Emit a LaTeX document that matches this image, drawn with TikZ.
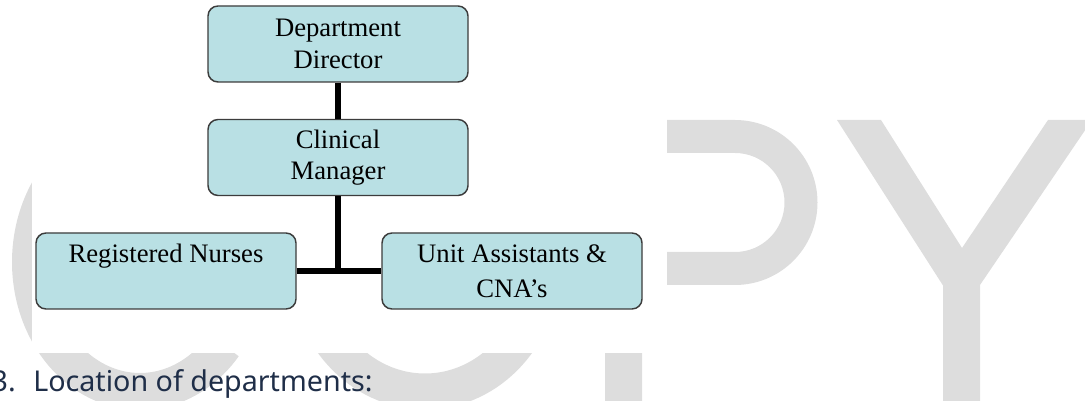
\documentclass[tikz,border=0pt]{standalone}
\usepackage{fontspec}
\setmainfont{Liberation Serif}
\newfontfamily\pagefont{Noto Sans}
\definecolor{boxfill}{HTML}{B9E0E4}
\definecolor{boxline}{HTML}{3C3C3C}
\definecolor{wmgray}{HTML}{DDDDDD}
\definecolor{capnavy}{HTML}{1F2E48}
\begin{document}
\begin{tikzpicture}[x=0.75pt,y=0.75pt,
  orgbox/.style={draw=boxline,line width=1.1pt,fill=boxfill,rounded corners=7.5pt,
    minimum width=195pt,minimum height=57pt,align=center,inner sep=0pt},
  topfont/.style={font=\fontsize{20}{23.7}\selectfont},
  lowfont/.style={font=\fontsize{20}{26.3}\selectfont},
  link/.style={line width=4pt},
  captext/.style={font=\pagefont\fontsize{21.5}{26}\selectfont,text=capnavy,inner sep=0pt}]
  \useasboundingbox (0,0) rectangle (1085,400);
  \clip (0,0) rectangle (1085,400);
  % watermark letters
  \draw[wmgray,line width=27.75pt] (140,138) ++(40:109.5 and 129.5)
    arc[start angle=40,end angle=320,x radius=109.5,y radius=129.5];
  \draw[wmgray,line width=27pt] (425,138) ellipse[x radius=118,y radius=129.5];
  \fill[wmgray,even odd rule] (605,-10) -- (605,280) -- (735,280)
    arc[start angle=90,end angle=-90,radius=82.5] -- (642,115) -- (642,-10) -- cycle
    (642,247) -- (735,247) arc[start angle=90,end angle=-90,radius=49.5] -- (642,148) -- cycle;
  \fill[wmgray] (837,280) -- (881,280) -- (962,152) -- (1048,280) -- (1092,280)
    -- (980,115) -- (980,-10) -- (943,-10) -- (943,114.5) -- cycle;
  % white ground of the chart
  \fill[white] (32,47) rectangle (667,400);
  % chart
  \node[orgbox,topfont] (director) at (338,356) {Department\\Director};
  \node[orgbox,topfont] (manager) at (338,242.5) {Clinical\\Manager};
  \node[orgbox,lowfont] (nurses) at (166,129) {Registered Nurses\\\mbox{}};
  \node[orgbox,lowfont] (assist) at (512,129) {Unit Assistants \&\\CNA’s};
  \draw[link] (director) -- (manager);
  \draw[link] (manager) -- (manager |- nurses.east);
  \draw[link] (nurses) -- (assist);
  % caption
  \node[captext,anchor=base east] (num) at (16,9) {3.};
  \node[captext,anchor=base west] (loc) at (33,9) {Location of departments:};
\end{tikzpicture}
\end{document}
